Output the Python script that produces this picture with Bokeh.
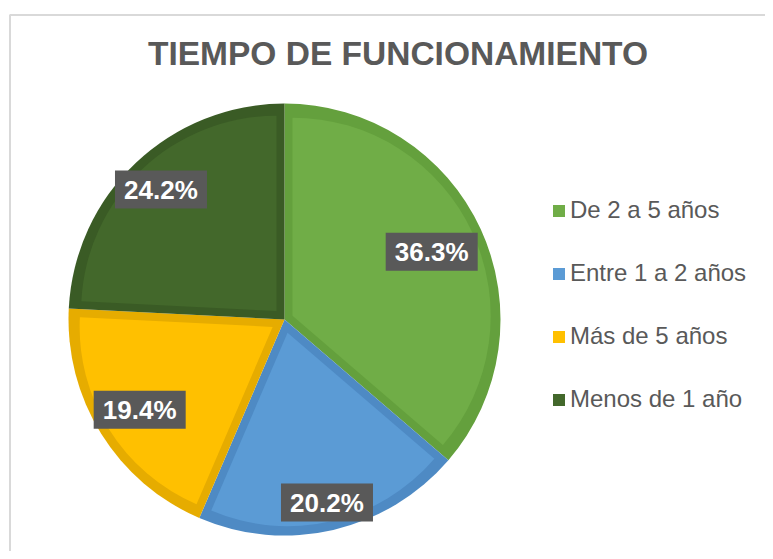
import math
from bokeh.plotting import figure
from bokeh.models import Range1d, ColumnDataSource, Legend, LegendItem, Label
from bokeh.embed import file_html
from bokeh.resources import INLINE
from bokeh.core.properties import value

# ---- data ----
title_text = "TIEMPO DE FUNCIONAMIENTO"
categories = ["De 2 a 5 años", "Entre 1 a 2 años", "Más de 5 años", "Menos de 1 año"]
counts = [45, 25, 24, 30]

# ---- styles ----
fill_colors = ["#70AD47", "#5B9BD5", "#FFC000", "#43682B"]
band_colors = ["#64A03D", "#4E8AC4", "#E6AC00", "#3A5B25"]
label_r_frac = [0.75, 0.87, 0.79, 0.83]
FONT = "Liberation Sans"
TXT = "#595959"

W, H = 765, 551
TOP = 559  # data y of the image top edge
CX, CY, R = 284, TOP - 319, 216
BAND = 8

total = sum(counts)
fracs = [c / total for c in counts]
starts, ends = [], []
acc = 0.0
for f in fracs:
    starts.append(math.pi / 2 - 2 * math.pi * acc)
    acc += f
    ends.append(math.pi / 2 - 2 * math.pi * acc)
mids = [(s + e) / 2 for s, e in zip(starts, ends)]
halfs = [math.pi * f for f in fracs]
offs = [BAND / math.sin(h) for h in halfs]

outer = ColumnDataSource(dict(x=[CX] * 4, y=[CY] * 4, start=starts, end=ends,
                              color=band_colors, cat=categories))
inner = ColumnDataSource(dict(
    x=[CX + d * math.cos(m) for d, m in zip(offs, mids)],
    y=[CY + d * math.sin(m) for d, m in zip(offs, mids)],
    r=[R - BAND - 1 - d for d in offs],
    start=starts, end=ends, color=fill_colors, cat=categories))

labels = ["{:.1f}%".format(100 * f) for f in fracs]
lab = ColumnDataSource(dict(
    x=[CX + k * R * math.cos(m) for k, m in zip(label_r_frac, mids)],
    y=[CY + k * R * math.sin(m) for k, m in zip(label_r_frac, mids)],
    text=labels))

p = figure(width=W, height=H, output_backend="svg", toolbar_location=None,
           x_range=Range1d(0, W), y_range=Range1d(TOP - H, TOP),
           x_axis_type=None, y_axis_type=None, min_border=0,
           background_fill_color="white", border_fill_color="white")
p.outline_line_color = None
p.xgrid.visible = False
p.ygrid.visible = False

# chart area border (extends beyond the visible window on right/bottom)
p.quad(left=[9.5], right=[900], top=[TOP - 14.5], bottom=[-100],
       fill_color=None, line_color="#D9D9D9", line_width=2)

p.wedge(x="x", y="y", radius=R, start_angle="start", end_angle="end",
        direction="clock", fill_color="color", line_color=None, source=outer)
rin = p.wedge(x="x", y="y", radius="r", start_angle="start", end_angle="end",
              direction="clock", fill_color="color", line_color=None, source=inner)

p.rect(x="x", y="y", width=92, height=38, width_units="screen", height_units="screen",
       fill_color="#595959", line_color=None, source=lab)
p.text(x="x", y="y", text="text", text_color="white", text_font=value(FONT),
       text_font_style="bold", text_font_size="26px", text_align="center",
       text_baseline="middle", source=lab)

p.add_layout(Label(x=397.5, y=TOP - 53, text=title_text, text_align="center",
                   text_baseline="middle", text_font=FONT, text_font_style="bold",
                   text_font_size="33.5px", text_color=TXT))

items = [LegendItem(label=c, renderers=[rin], index=i) for i, c in enumerate(categories)]
legend = Legend(items=items, location=(551, 137), orientation="vertical",
                glyph_width=15, glyph_height=15, label_standoff=4, label_height=30,
                spacing=33, padding=0, margin=0, border_line_color=None,
                background_fill_alpha=0, label_text_font=FONT,
                label_text_font_size="24px", label_text_color=TXT)
p.add_layout(legend, "center")

open("out.html", "w").write(file_html(p, INLINE))
